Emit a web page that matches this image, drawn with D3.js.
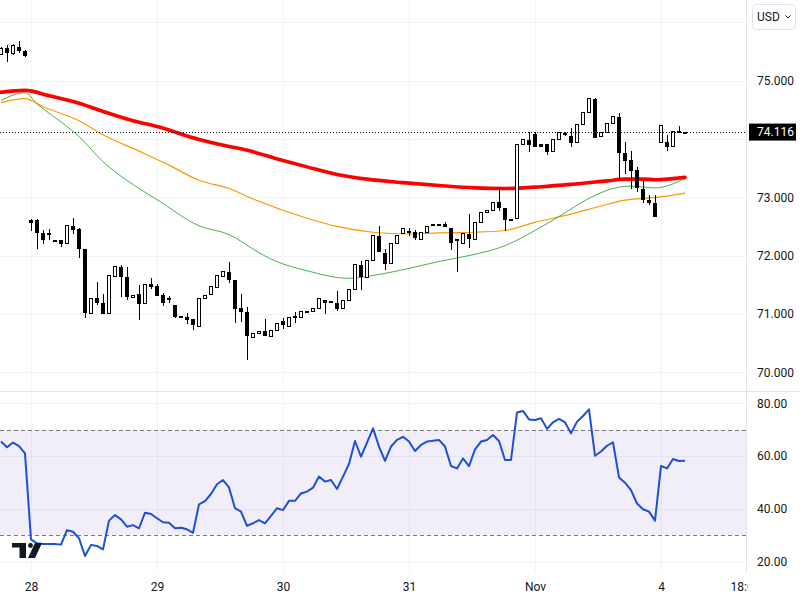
<!DOCTYPE html>
<html><head><meta charset="utf-8">
<script src="https://cdn.jsdelivr.net/npm/d3@7"></script>
<style>html,body{margin:0;padding:0;background:#fff;} svg{display:block;font-family:Roboto,"Noto Sans",sans-serif;}</style>
</head><body><svg id="c" width="800" height="600"></svg>
<script>
// ---------- data ----------
const firstIndex = -5; // candle index of first bar (Fri Oct 25); index 0 = first bar of Oct 28
const opens = [75.46,75.55,75.47,75.58,75.51,
72.61,72.61,72.38,72.37,72.26,72.26,72.21,72.50,72.45,72.11,
71.02,71.27,71.19,71.01,71.65,71.81,71.64,71.29,71.34,71.18,
71.52,71.48,71.32,71.27,71.15,70.96,70.95,70.92,70.80,71.28,
71.35,71.47,71.65,71.72,71.58,71.11,71.03,70.61,70.68,70.70,
70.63,70.73,70.88,70.80,70.95,70.94,71.05,71.05,71.11,71.24,
71.22,71.18,71.10,71.24,71.42,71.84,71.64,71.93,72.34,72.05,
71.87,72.21,72.38,72.42,72.40,72.29,72.41,72.535,72.54,72.54,
72.47,72.27,72.22,72.37,72.28,72.58,72.74,72.78,72.91,72.82,
72.63,72.64,73.92,73.98,74.08,73.91,73.91,73.79,73.99,74.10,
74.05,73.94,74.26,74.46,74.68,74.05,74.11,74.27,74.37,73.76,
73.63,73.47,73.14,72.95,72.90,73.94,73.94,73.87,74.13,74.116];
const highs = [75.57,75.61,75.62,75.68,75.52,
72.62,72.62,72.44,72.46,72.27,72.26,72.52,72.64,72.48,72.11,
71.28,71.55,71.35,71.66,71.82,71.84,71.81,71.33,71.49,71.52,
71.61,71.51,71.36,71.30,71.15,70.96,71.01,70.92,71.28,71.33,
71.48,71.66,71.73,71.89,71.58,71.34,71.12,70.68,70.71,70.92,
70.73,70.84,70.93,70.94,71.04,71.05,71.05,71.11,71.27,71.24,
71.22,71.40,71.24,71.42,71.86,71.91,71.93,72.35,72.51,72.12,
72.21,72.36,72.48,72.48,72.43,72.41,72.51,72.535,72.545,72.58,
72.47,72.28,72.38,72.71,72.58,72.74,72.78,72.91,73.15,72.82,
72.63,73.92,73.99,74.12,74.12,73.92,73.91,73.99,74.12,74.12,
74.18,74.26,74.46,74.70,74.70,74.12,74.27,74.39,74.45,73.94,
73.79,73.51,73.30,73.04,73.04,74.24,74.07,74.14,74.22,74.12];
const lows = [75.45,75.34,75.46,75.49,75.42,
72.44,72.13,72.22,72.29,72.25,72.17,72.21,72.39,71.98,70.95,
71.02,71.17,71.02,71.01,71.65,71.30,71.26,71.29,70.91,71.18,
71.45,71.33,71.16,71.20,70.94,70.96,70.84,70.75,70.80,71.28,
71.35,71.47,71.65,71.55,70.86,70.88,70.23,70.61,70.68,70.64,
70.63,70.73,70.76,70.80,70.87,70.94,71.05,71.05,71.11,71.01,
71.22,71.06,71.10,71.24,71.42,71.42,71.64,71.93,72.08,71.77,
71.87,72.21,72.38,72.36,72.28,72.29,72.41,72.53,72.54,72.50,
72.12,71.74,72.22,72.15,72.28,72.58,72.74,72.78,72.78,72.44,
72.63,72.64,73.92,73.80,73.88,73.87,73.74,73.79,73.99,74.07,
73.88,73.94,74.26,74.46,74.04,74.05,74.11,74.27,73.32,73.41,
73.15,73.10,72.92,72.88,72.685,73.94,73.81,73.87,74.11,74.11];
const closes = [75.55,75.48,75.61,75.53,75.44,
72.58,72.41,72.29,72.38,72.26,72.22,72.52,72.45,72.13,71.04,
71.28,71.21,71.02,71.66,71.82,71.65,71.30,71.33,71.18,71.52,
71.48,71.33,71.20,71.26,70.96,70.96,70.91,70.83,71.28,71.33,
71.48,71.66,71.73,71.60,71.11,71.05,70.64,70.68,70.71,70.64,
70.73,70.84,70.82,70.94,70.96,71.05,71.05,71.11,71.27,71.20,
71.22,71.10,71.24,71.42,71.85,71.65,71.93,72.35,72.08,71.88,
72.21,72.36,72.48,72.40,72.31,72.41,72.51,72.53,72.545,72.50,
72.24,72.28,72.38,72.30,72.58,72.74,72.78,72.91,72.83,72.63,
72.63,73.92,73.99,73.91,73.88,73.88,73.79,73.99,74.11,74.09,
73.95,74.26,74.46,74.70,74.04,74.12,74.27,74.39,73.78,73.64,
73.47,73.17,72.97,72.92,72.685,74.24,73.88,74.14,74.12,74.116];
const rsiValues = [65.5,63.3,65.1,63.8,61.0,
28.4,26.9,26.6,26.6,26.6,26.4,31.9,31.3,28.8,22.1,
26.3,25.9,24.6,35.5,37.6,36.0,33.2,33.8,32.6,38.5,
38.0,36.4,34.9,34.7,32.6,32.8,32.2,30.9,41.7,42.9,
45.6,49.3,50.9,48.1,40.2,38.9,33.5,34.5,35.7,34.5,
37.3,40.2,39.5,43.0,43.0,45.8,46.5,48.0,52.2,50.3,
50.9,47.5,52.2,57.0,65.7,59.8,65.1,70.5,63.6,58.2,
63.6,66.1,67.3,65.5,61.9,64.2,65.5,65.8,66.1,63.6,
56.2,55.3,59.1,56.2,62.5,65.5,66.1,68.0,65.7,58.5,
58.5,76.5,77.1,73.9,73.7,74.3,70.3,72.8,74.1,72.8,
68.6,73.0,75.2,77.7,60.1,61.7,63.9,65.2,51.9,49.9,
47.1,42.0,39.8,38.9,35.5,56.2,55.3,58.9,58.1,58.2];

// moving averages, read at candle indices
const redIdx = [-5,-1,3,8,12,17,21,28,33,35,42,46,51,56,62,68,74,79,85,90,96,99,102,104,109];
const redMA  = [74.80,74.83,74.74,74.61,74.47,74.31,74.21,73.99,73.87,73.83,73.63,73.52,73.39,73.31,73.25,73.20,73.16,73.15,73.18,73.22,73.28,73.31,73.31,73.30,73.34];
const orangeIdx = [-5,-1,2,8,12,18,23,28,33,37,46,51,57,63,68,74,79,84,90,95,99,102,106,109];
const orangeMA  = [74.62,74.69,74.55,74.31,74.07,73.79,73.55,73.29,73.15,72.97,72.64,72.50,72.40,72.37,72.39,72.40,72.43,72.57,72.71,72.85,72.95,72.98,73.02,73.07];
const greenIdx = [-5,-1,1,5,8,12,18,21,28,33,38,40,46,53,57,63,68,73,79,84,88,93,97,100,104,109];
const greenMA  = [74.66,74.79,74.60,74.29,74.04,73.61,73.15,72.96,72.51,72.36,72.05,71.94,71.74,71.61,71.66,71.78,71.90,72.00,72.17,72.43,72.67,72.98,73.15,73.19,73.16,73.32];

const lastPrice = 74.116;
const priceGrid = [70,71,72,73,74,75,76];
const priceTicks = [70,71,72,73,74,75];
const rsiTicks = [20,40,60,80];
const rsiBand = [30,70];
const dayTickIdx = [0,21,42,63,84,105,119];
const dayTickLabels = ["28","29","30","31","Nov","4","18:00"];
const currency = "USD";

// ---------- layout ----------
const svg = d3.select("#c");
const plotR = 746;
const priceTop = 0, priceBottom = 391;
const rsiTop = 392, rsiBottom = 572;
const TXT = "#131722", GRID = "#f0f3fa", BORDER = "#e0e3eb";

const x = d3.scaleLinear().domain([0,105]).range([31,661]);
const y = d3.scaleLinear().domain([70,75]).range([372.3,80.5]);
const yr = d3.scaleLinear().domain([20,80]).range([561.5,403.3]);
const px = v => Math.round(v) + 0.5;

const defs = svg.append("defs");
defs.append("clipPath").attr("id","cp").append("rect").attr("x",0).attr("y",priceTop).attr("width",plotR).attr("height",priceBottom-priceTop);
defs.append("clipPath").attr("id","cr").append("rect").attr("x",0).attr("y",rsiTop).attr("width",plotR).attr("height",rsiBottom-rsiTop);
defs.append("clipPath").attr("id","cx").append("rect").attr("x",0).attr("y",572).attr("width",748).attr("height",28);
const lpY = y(lastPrice);
defs.append("clipPath").attr("id","cl").append("rect").attr("x",746).attr("y",lpY+8.5).attr("width",54).attr("height",20);

// grid
const grid = svg.append("g");
grid.selectAll(".hg").data(priceGrid).join("line")
  .attr("x1",0).attr("x2",plotR).attr("y1",d=>px(y(d))).attr("y2",d=>px(y(d)))
  .attr("stroke",GRID).attr("stroke-width",1);
grid.selectAll(".rg").data(rsiTicks).join("line")
  .attr("x1",0).attr("x2",plotR).attr("y1",d=>px(yr(d))).attr("y2",d=>px(yr(d)))
  .attr("stroke",GRID).attr("stroke-width",1);
grid.selectAll(".vg").data(dayTickIdx.slice(0,6)).join("line")
  .attr("x1",d=>px(x(d))).attr("x2",d=>px(x(d))).attr("y1",0).attr("y2",rsiBottom)
  .attr("stroke",GRID).attr("stroke-width",1);

// borders
svg.append("line").attr("x1",plotR+0.5).attr("x2",plotR+0.5).attr("y1",0).attr("y2",rsiBottom).attr("stroke",BORDER);
svg.append("line").attr("x1",0).attr("x2",800).attr("y1",391.5).attr("y2",391.5).attr("stroke",BORDER);

// ---------- price pane ----------
const pp = svg.append("g").attr("clip-path","url(#cp)");
const maLine = d3.line().x(d=>x(d[0])).y(d=>y(d[1])).curve(d3.curveMonotoneX);
pp.append("path").datum(d3.zip(orangeIdx,orangeMA)).attr("d",maLine).attr("fill","none").attr("stroke","#ff9800").attr("stroke-width",1.2);
pp.append("path").datum(d3.zip(greenIdx,greenMA)).attr("d",maLine).attr("fill","none").attr("stroke","#4caf50").attr("stroke-width",1);
pp.append("path").datum(d3.zip(redIdx,redMA)).attr("d",maLine).attr("fill","none").attr("stroke","#ff0000").attr("stroke-width",3.6).attr("stroke-linecap","round");

const candles = opens.map((o,k)=>({i:firstIndex+k,o,h:highs[k],l:lows[k],c:closes[k]}));
const cg = pp.append("g");
candles.forEach(d=>{
  const xc = px(x(d.i));
  cg.append("line").attr("x1",xc).attr("x2",xc).attr("y1",Math.round(y(d.h))).attr("y2",Math.round(y(d.l))+1)
    .attr("stroke","#000").attr("stroke-width",1);
  let yt = px(y(Math.max(d.o,d.c))), yb = px(y(Math.min(d.o,d.c)));
  if (yb - yt < 1) yb = yt + 1;
  const up = d.c > d.o + 0.004;
  cg.append("rect").attr("x",xc-2).attr("width",3).attr("y",yt).attr("height",yb-yt)
    .attr("fill", up ? "#fff" : "#000").attr("stroke","#000").attr("stroke-width",1);
});

// last price dotted line
svg.append("line").attr("x1",0).attr("x2",plotR).attr("y1",px(lpY)).attr("y2",px(lpY))
  .attr("stroke","#000").attr("stroke-width",1).attr("stroke-dasharray","1,2");

// price axis (74.000 mostly hidden behind the last-price label, as in the original)
const pAxis = svg.append("g").attr("transform",`translate(${plotR},0)`)
  .call(d3.axisRight(y).tickValues(priceTicks).tickSize(0).tickPadding(11).tickFormat(d3.format(".3f")));
pAxis.select(".domain").remove();
pAxis.selectAll("text").attr("fill",TXT).attr("font-size",12).attr("font-family","Roboto,'Noto Sans',sans-serif");
pAxis.selectAll(".tick").filter(d=>d===74).attr("clip-path","url(#cl)");

// last price label
svg.append("rect").attr("x",749).attr("y",lpY-8.5).attr("width",47).attr("height",17).attr("fill","#000");
svg.append("text").attr("x",757).attr("y",lpY).attr("dy","0.35em").attr("fill","#fff").attr("font-size",12).text(d3.format(".3f")(lastPrice));

// currency button
svg.append("rect").attr("x",752.5).attr("y",4.5).attr("width",43).attr("height",25).attr("rx",4)
  .attr("fill","#fff").attr("stroke",BORDER);
svg.append("text").attr("x",757).attr("y",21).attr("fill",TXT).attr("font-size",12).text(currency);
svg.append("path").attr("d","M785.5,15.5 L788,18 L790.5,15.5").attr("fill","none").attr("stroke",TXT).attr("stroke-width",1);

// ---------- RSI pane ----------
const rp = svg.append("g").attr("clip-path","url(#cr)");
rp.append("rect").attr("x",0).attr("width",plotR).attr("y",yr(rsiBand[1])).attr("height",yr(rsiBand[0])-yr(rsiBand[1]))
  .attr("fill","rgba(126,87,194,0.1)");
rp.selectAll(".band").data(rsiBand).join("line")
  .attr("x1",0).attr("x2",plotR).attr("y1",d=>px(yr(d))).attr("y2",d=>px(yr(d)))
  .attr("stroke","#787b86").attr("stroke-width",1).attr("stroke-dasharray","4,3");
const rsiLine = d3.line().x((d,k)=>x(firstIndex+k)).y(d=>yr(d));
rp.append("path").datum(rsiValues).attr("d",rsiLine).attr("fill","none").attr("stroke","#1f4fd4").attr("stroke-width",2).attr("stroke-linejoin","round");

const rAxis = svg.append("g").attr("transform",`translate(${plotR},0)`)
  .call(d3.axisRight(yr).tickValues(rsiTicks).tickSize(0).tickPadding(11).tickFormat(d3.format(".2f")));
rAxis.select(".domain").remove();
rAxis.selectAll("text").attr("fill",TXT).attr("font-size",12).attr("font-family","Roboto,'Noto Sans',sans-serif");

// logo
const logo = svg.append("g").attr("fill","#131722");
logo.append("path").attr("d","M12,543 H26 V558 H19.5 V547.5 H12 Z");
logo.append("circle").attr("cx",30.5).attr("cy",545.5).attr("r",2.4);
logo.append("path").attr("d","M35,543 H42 L35,558 H28 Z");

// ---------- x axis ----------
const xWrap = svg.append("g").attr("clip-path","url(#cx)");
const xAxis = xWrap.append("g").attr("transform",`translate(0,${rsiBottom})`)
  .call(d3.axisBottom(x).tickValues(dayTickIdx).tickSize(0).tickPadding(10).tickFormat((d,k)=>dayTickLabels[k]));
xAxis.select(".domain").remove();
xAxis.selectAll("text").attr("fill",TXT).attr("font-size",12).attr("font-family","Roboto,'Noto Sans',sans-serif");
</script>
</body></html>
